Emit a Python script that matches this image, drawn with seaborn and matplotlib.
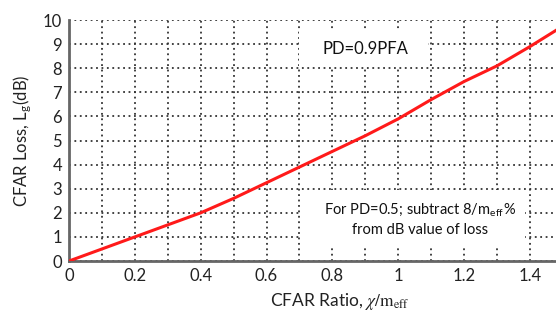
import numpy as np
import pandas as pd
import matplotlib
matplotlib.use("Agg")
import matplotlib.pyplot as plt
import seaborn as sns
from matplotlib.patches import Rectangle

# values
cfar_ratio = [0, 0.1, 0.2, 0.3, 0.4, 0.5, 0.6, 0.7, 0.8, 0.9, 1.0, 1.1, 1.2, 1.3, 1.4, 1.5]
cfar_loss = [0, 0.5, 1.0, 1.5, 2.0, 2.6, 3.25, 3.9, 4.55, 5.2, 5.9, 6.7, 7.45, 8.1, 8.9, 9.75]
x_grid = [0, 0.1, 0.2, 0.3, 0.4, 0.5, 0.6, 0.7, 0.8, 0.9, 1.0, 1.1, 1.2, 1.3, 1.4]
x_tick_labels = ["0", "", "0.2", "", "0.4", "", "0.6", "", "0.8", "", "1", "", "1.2", "", "1.4"]
y_ticks = list(range(0, 11))

df = pd.DataFrame({"ratio": cfar_ratio, "loss": cfar_loss})

sns.set_style("white")
plt.rcParams["font.family"] = ["Lato", "DejaVu Sans"]
plt.rcParams["mathtext.fontset"] = "stix"

fig = plt.figure(figsize=(5.56, 3.13), dpi=100)
ax = fig.add_axes([0.124, 0.166, 0.876, 0.77])

sns.lineplot(data=df, x="ratio", y="loss", color="#ff1a1a", linewidth=2.2, ax=ax, zorder=5)

ax.set_xlim(0, 1.479)
ax.set_ylim(0, 10)
ax.set_xticks(x_grid)
ax.set_xticklabels(x_tick_labels)
ax.set_xticks(np.arange(0.05, 1.5, 0.1), minor=True)
ax.set_yticks(y_ticks)
ax.tick_params(axis="both", which="major", length=0, labelsize=12, colors="#222222", pad=5)
ax.tick_params(axis="x", which="minor", direction="in", length=3, width=1, color="#777777")
ax.grid(True, which="major", color="#333333", linestyle=(0, (1, 2)), linewidth=1.3)

for side in ["top", "right"]:
    ax.spines[side].set_visible(False)
for side in ["left", "bottom"]:
    ax.spines[side].set_color("#666666")
    ax.spines[side].set_linewidth(2)

# white boxes holding the annotations
ax.add_patch(Rectangle((0.7, 8.05), 0.39, 1.55, facecolor="white", edgecolor="none", zorder=3))
ax.text(0.9, 8.8, "PD=0.9PFA", ha="center", va="center", fontsize=12, color="#111111", zorder=4)

ax.add_patch(Rectangle((0.705, 0.55), 0.68, 2.4, facecolor="white", edgecolor="none", zorder=3))
ax.text(1.065, 1.72, "For PD=0.5; subtract 8/m$_\\mathregular{eff}$%\nfrom dB value of loss",
        ha="center", va="center", fontsize=10.5, color="#111111", linespacing=1.5, zorder=4)

ax.set_xlabel("CFAR Ratio, $\\chi/\\mathrm{m}_{\\mathrm{eff}}$", fontsize=12.5, color="#222222")
ax.xaxis.set_label_coords(0.556, -0.125)
ax.set_ylabel("CFAR Loss, L$_\\mathregular{g}$(dB)", fontsize=12, color="#222222", labelpad=6)

fig.savefig("out.png", dpi=100)
